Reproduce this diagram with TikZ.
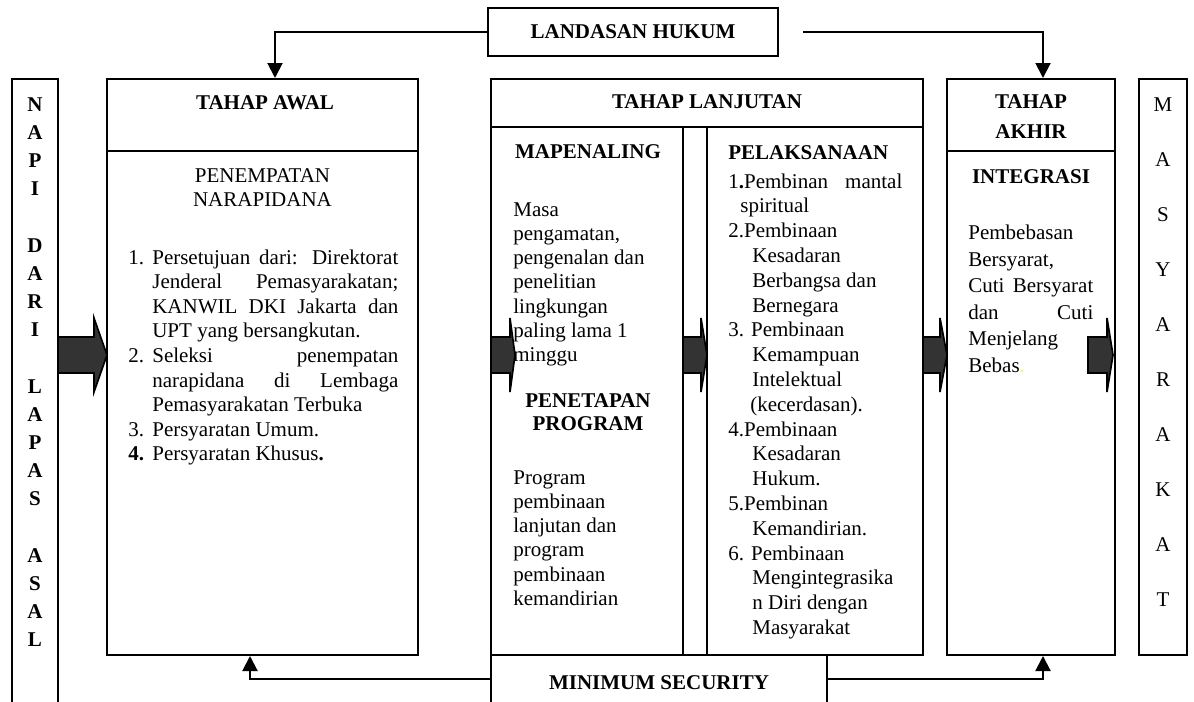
\documentclass[tikz,border=0pt]{standalone}
\usepackage{fontspec}
\setmainfont{Liberation Serif}
\usetikzlibrary{arrows.meta}
\newcommand{\jl}[1]{\makebox[147.6pt][s]{#1}}

\begin{document}
\begin{tikzpicture}[x=0.6pt, y=-0.6pt,
    stage/.style = {draw, line width=1.2pt, inner sep=0pt},
    head/.style = {inner sep=0pt, font=\fontsize{12.6pt}{14.4pt}\selectfont\bfseries},
    body/.style = {inner sep=0pt, font=\fontsize{12.6pt}{#1}\selectfont},
    body/.default = 14.76pt,
    conn/.style = {line width=1.2pt, -{Triangle[length=9pt,width=9pt]}},
    fatarrow/.style = {fill=black!80, draw=black, line width=1pt}]

    \useasboundingbox (0,0) rectangle (1194,702);
    \clip (0,0) rectangle (1194,702);

    % Landasan hukum
    \node[stage, head, minimum width=174pt, minimum height=28.8pt] (landasan) at (633,32) {LANDASAN HUKUM};

    % Napi dari lapas asal
    \node[stage, minimum width=27.6pt, minimum height=384.6pt] (napi) at (35,399.5) {};
    \foreach \ch [count=\i from 0] in {N,A,P,I,{},D,A,R,I,{},L,A,P,A,S,{},A,S,A,L}
        \node[head, anchor=base] (napi-\i) at (35,111+28.2*\i) {\ch};

    % Tahap awal (multi-line nodes sit on their last baseline)
    \node[stage, minimum width=186.6pt, minimum height=345.6pt] (awal) at (262.5,367) {};
    \draw[line width=1.2pt] (awal.west |- 0,151) -- (awal.east |- 0,151);
    \node[head, anchor=base] (awal-t) at (265,110) {TAHAP AWAL};
    \node[body=14.7pt, anchor=base, align=center] (awal-s) at (262.5,206.5) {PENEMPATAN\\NARAPIDANA};
    \node[body, anchor=base west] (awal-n1) at (128,264) {1.};
    \node[body, anchor=base west] (awal-n2) at (128,362.4) {2.};
    \node[body, anchor=base west] (awal-n3) at (128,436.2) {3.};
    \node[body, anchor=base west] (awal-n4) at (128,460.8) {\textbf{4.}};
    \node[body, anchor=base west, align=left] (awal-l) at (152,460.8)
        {\jl{Persetujuan dari: Direktorat}\\
         \jl{Jenderal Pemasyarakatan;}\\
         \jl{KANWIL DKI Jakarta dan}\\
         UPT yang bersangkutan.\\
         \jl{Seleksi penempatan}\\
         \jl{narapidana di Lembaga}\\
         Pemasyarakatan Terbuka\\
         Persyaratan Umum.\\
         Persyaratan Khusus\textbf{.}};

    % Tahap lanjutan
    \node[stage, minimum width=259.2pt, minimum height=345.6pt] (lanjut) at (707,367) {};
    \draw[line width=1.2pt] (lanjut.west |- 0,127) -- (lanjut.east |- 0,127);
    \draw[line width=1.2pt] (683,127) -- (683,655);
    \draw[line width=1.2pt] (707,127) -- (707,655);
    \node[head, anchor=base] (lanjut-t) at (707,109) {TAHAP LANJUTAN};

    % Mapenaling dan penetapan program
    \node[head, anchor=base] (map-t) at (588,158) {MAPENALING};
    \node[body=14.58pt, anchor=base west, align=left] (map-b) at (513,361.8)
        {Masa\\pengamatan,\\pengenalan dan\\penelitian\\lingkungan\\paling lama 1\\minggu};
    \node[head, anchor=base, align=center, font=\fontsize{12.6pt}{13.8pt}\selectfont\bfseries] (pen-t) at (588,430) {PENETAPAN\\PROGRAM};
    \node[body=14.58pt, anchor=base west, align=left] (pen-b) at (513,605.5)
        {Program\\pembinaan\\lanjutan dan\\program\\pembinaan\\kemandirian};

    % Pelaksanaan
    \node[head, anchor=base west] (pel-t) at (728,159) {PELAKSANAAN};
    \node[body=14.88pt, anchor=base west, align=left] (pel-b) at (728,634.4)
        {\makebox[104.4pt][s]{1\textbf{.}Pembinan mantal}\\
         \hspace*{7.2pt}spiritual\\
         2.Pembinaan\\
         \hspace*{14.4pt}Kesadaran\\
         \hspace*{14.4pt}Berbangsa dan\\
         \hspace*{14.4pt}Bernegara\\
         3. Pembinaan\\
         \hspace*{14.4pt}Kemampuan\\
         \hspace*{14.4pt}Intelektual\\
         \hspace*{13.2pt}(kecerdasan).\\
         4.Pembinaan\\
         \hspace*{14.4pt}Kesadaran\\
         \hspace*{14.4pt}Hukum.\\
         5.Pembinan\\
         \hspace*{14.4pt}Kemandirian.\\
         6. Pembinaan\\
         \hspace*{14.4pt}Mengintegrasika\\
         \hspace*{14.4pt}n Diri dengan\\
         \hspace*{14.4pt}Masyarakat};

    % Tahap akhir
    \node[stage, minimum width=100.8pt, minimum height=345.6pt] (akhir) at (1031,367) {};
    \draw[line width=1.2pt] (akhir.west |- 0,151) -- (akhir.east |- 0,151);
    \node[head, anchor=base, align=center, font=\fontsize{12.6pt}{18pt}\selectfont\bfseries] (akhir-t) at (1031,139) {TAHAP\\AKHIR};
    \node[head, anchor=base] (integ-t) at (1031,183) {INTEGRASI};
    \node[body=15.9pt, anchor=base west, align=left] (integ-b) at (968,372)
        {Pembebasan\\Bersyarat,\\\makebox[75pt][s]{Cuti Bersyarat}\\\makebox[75pt][s]{dan Cuti}\\Menjelang\\Bebas{\color{yellow!60}.}};

    % Masyarakat
    \node[stage, minimum width=28.8pt, minimum height=345.6pt] (masy) at (1163,367) {};
    \foreach \ch [count=\i from 0] in {M,A,S,Y,A,R,A,K,A,T}
        \node[body, anchor=base] (masy-\i) at (1163,111+55*\i) {\ch};

    % Minimum security
    \node[stage, head, minimum width=201.6pt, minimum height=33pt] (minsec) at (659,682.5) {MINIMUM SECURITY};

    % Connectors
    \draw[conn] (landasan.west) -| (awal.north -| 275,0);
    \coordinate (lhgap) at (803,32);
    \draw[conn] (lhgap) -| (akhir.north -| 1043,0);
    \draw[conn] (minsec.west |- 0,679) -| (awal.south -| 250,0);
    \draw[conn] (minsec.east |- 0,679) -| (akhir.south -| 1043,0);

    % Block arrows
    \foreach \xs/\xb/\xt in {58/94/107, 491/510/515, 683/701/707, 923/940/947, 1088/1107/1113}
        \draw[fatarrow] (\xs,337) -- (\xb,337) -- (\xb,318) -- (\xt,355) -- (\xb,392) -- (\xb,373) -- (\xs,373) -- cycle;

\end{tikzpicture}
\end{document}
